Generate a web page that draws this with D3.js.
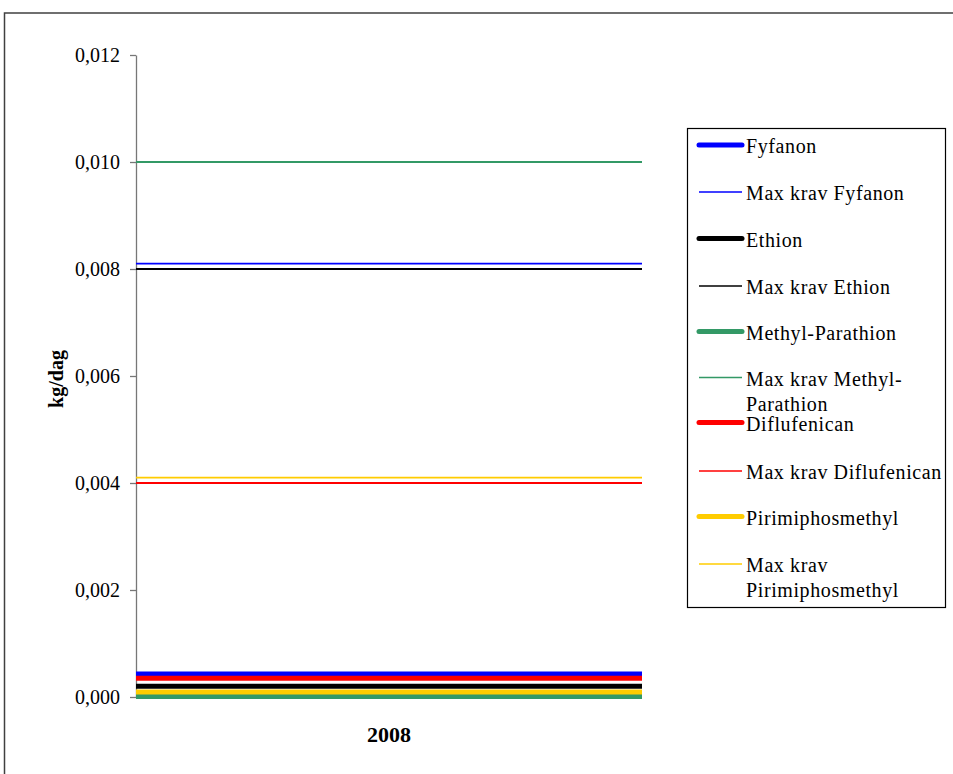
<!DOCTYPE html>
<html>
<head>
<meta charset="utf-8">
<script src="https://cdn.jsdelivr.net/npm/d3@7"></script>
<style>
  html, body { margin: 0; padding: 0; background: #fff; overflow: hidden; }
  svg { display: block; font-family: "Liberation Serif", "Times New Roman", serif; }
</style>
</head>
<body>
<svg id="chart" width="953" height="774"></svg>
<script>
// ---- data ----
const categories = ["2008"];
const seriesNames = [
  "Fyfanon", "Max krav Fyfanon",
  "Ethion", "Max krav Ethion",
  "Methyl-Parathion", "Max krav Methyl-Parathion",
  "Diflufenican", "Max krav Diflufenican",
  "Pirimiphosmethyl", "Max krav Pirimiphosmethyl"
];
const seriesValues = [0.00043, 0.0081, 0.0002, 0.008, 0.00001, 0.010, 0.00035, 0.004, 0.000095, 0.0041];
const seriesColors = ["#0000ff", "#0000ff", "#000000", "#000000", "#339966", "#339966", "#ff0000", "#ff0000", "#ffcc00", "#ffcc00"];
const seriesThick = [true, false, true, false, true, false, true, false, true, false];
const legendLabels = [
  ["Fyfanon"], ["Max krav Fyfanon"],
  ["Ethion"], ["Max krav Ethion"],
  ["Methyl-Parathion"], ["Max krav Methyl-", "Parathion"],
  ["Diflufenican"], ["Max krav Diflufenican"],
  ["Pirimiphosmethyl"], ["Max krav", "Pirimiphosmethyl"]
];
const yTicks = [0, 0.002, 0.004, 0.006, 0.008, 0.010, 0.012];
const yLabel = "kg/dag";

// ---- layout ----
const svg = d3.select("#chart");
const plot = { left: 136, right: 642, top: 55, bottom: 697 };

// outer chart border
svg.append("rect")
  .attr("x", 4.5).attr("y", 13).attr("width", 980).attr("height", 800)
  .attr("fill", "none").attr("stroke", "#404040").attr("stroke-width", 1.5);

const x = d3.scaleBand().domain(categories).range([plot.left, plot.right]).padding(0);
const y = d3.scaleLinear().domain([0, 0.012]).range([plot.bottom, plot.top]);

// y axis
const yAxis = d3.axisLeft(y)
  .tickValues(yTicks)
  .tickFormat(d => d3.format(".3f")(d).replace(".", ","))
  .tickSize(6).tickSizeOuter(0).tickPadding(10);
const gy = svg.append("g").attr("transform", `translate(${plot.left},0)`).call(yAxis);
gy.select(".domain").attr("stroke", "#777").attr("stroke-width", 1.3);
gy.selectAll(".tick line").attr("stroke", "#777").attr("stroke-width", 1.3);
gy.selectAll(".tick text")
  .attr("font-family", "Liberation Serif, Times New Roman, serif")
  .attr("font-size", 20).attr("fill", "#000");

// series lines
const order = d3.range(seriesNames.length);
svg.append("g").selectAll("line")
  .data(order)
  .join("line")
  .attr("x1", () => x(categories[0]))
  .attr("x2", () => x(categories[0]) + x.bandwidth())
  .attr("y1", i => y(seriesValues[i]))
  .attr("y2", i => y(seriesValues[i]))
  .attr("stroke", i => seriesColors[i])
  .attr("stroke-width", i => seriesThick[i] ? 5 : 1.8);

// category label
svg.append("text")
  .attr("x", x(categories[0]) + x.bandwidth() / 2)
  .attr("y", 742)
  .attr("text-anchor", "middle")
  .attr("font-weight", "bold").attr("font-size", 22)
  .text(categories[0]);

// y label
svg.append("text")
  .attr("transform", "translate(63,379) rotate(-90)")
  .attr("text-anchor", "middle")
  .attr("font-weight", "bold").attr("font-size", 20)
  .text(yLabel);

// legend
const legend = svg.append("g");
legend.append("rect")
  .attr("x", 687.5).attr("y", 128.5).attr("width", 258).attr("height", 479)
  .attr("fill", "#fff").attr("stroke", "#000").attr("stroke-width", 1.2);
const legendY = [145, 192, 238.5, 286, 331.5, 377.5, 422.5, 471, 516.5, 564];
const items = legend.selectAll("g.item").data(order).join("g").attr("class", "item")
  .attr("transform", i => `translate(0,${legendY[i]})`);
items.append("line")
  .attr("x1", 699).attr("x2", 742).attr("y1", 0).attr("y2", 0)
  .attr("stroke", i => seriesColors[i])
  .attr("stroke-width", i => seriesThick[i] ? 5 : 1.5)
  .attr("stroke-linecap", i => seriesThick[i] ? "round" : "butt");
items.each(function(i) {
  const t = d3.select(this).append("text")
    .attr("x", 746).attr("y", 8)
    .attr("font-size", 20).attr("letter-spacing", "0.6px").attr("fill", "#000");
  legendLabels[i].forEach((s, k) => {
    t.append("tspan").attr("x", 746).attr("dy", k === 0 ? 0 : 25).text(s);
  });
});
</script>
</body>
</html>
